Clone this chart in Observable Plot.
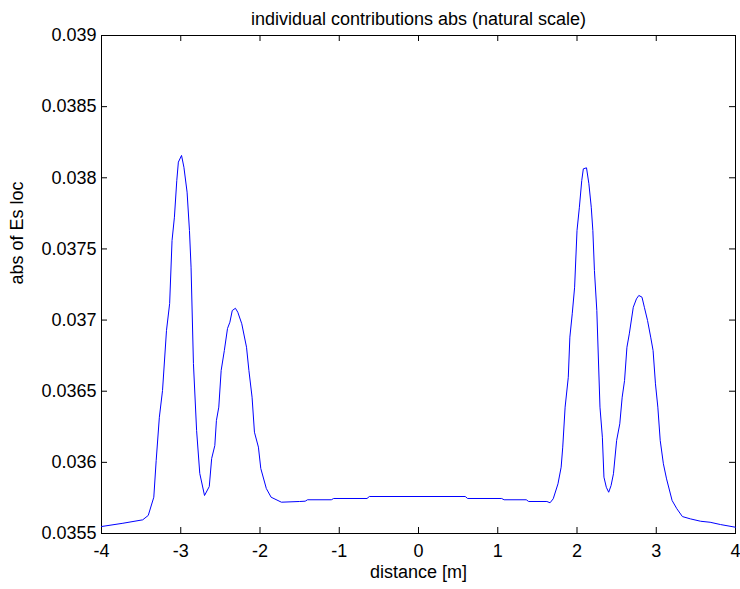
<!DOCTYPE html>
<html>
<head>
<meta charset="utf-8">
<script src="https://cdn.jsdelivr.net/npm/d3@7"></script>
<script src="https://cdn.jsdelivr.net/npm/@observablehq/plot@0.6"></script>
<style>
  html, body { margin: 0; padding: 0; background: #fff; }
</style>
</head>
<body>
<div id="chart"></div>
<script>
const chartTitle = "individual contributions abs (natural scale)";
const xLabel = "distance [m]";
const yLabel = "abs of Es loc";

const xTicks = [-4, -3, -2, -1, 0, 1, 2, 3, 4];
const yTicks = [0.0355, 0.036, 0.0365, 0.037, 0.0375, 0.038, 0.0385, 0.039];
const yTickLabels = ["0.0355", "0.036", "0.0365", "0.037", "0.0375", "0.038", "0.0385", "0.039"];

const distance = [
  -4.00, -3.73, -3.48, -3.41, -3.34, -3.31, -3.27, -3.23, -3.18, -3.14,
  -3.11, -3.08, -3.05, -3.03, -2.99, -2.96, -2.92, -2.89, -2.87, -2.84,
  -2.80, -2.76, -2.70, -2.64, -2.61, -2.57, -2.55, -2.52, -2.49, -2.45,
  -2.41, -2.38, -2.35, -2.31, -2.28, -2.23, -2.17, -2.14, -2.10, -2.07,
  -2.02, -1.99, -1.92, -1.86, -1.73, -1.50, -1.43, -1.40, -1.10, -1.07,
  -0.65, -0.62, 0.59, 0.62, 1.05, 1.08, 1.36, 1.39, 1.62, 1.66,
  1.70, 1.76, 1.80, 1.82, 1.85, 1.89, 1.91, 1.94, 1.97, 2.00,
  2.03, 2.06, 2.08, 2.12, 2.15, 2.18, 2.20, 2.22, 2.25, 2.29,
  2.32, 2.34, 2.37, 2.40, 2.43, 2.46, 2.50, 2.54, 2.57, 2.60,
  2.63, 2.66, 2.71, 2.75, 2.78, 2.82, 2.85, 2.89, 2.93, 2.96,
  2.99, 3.02, 3.05, 3.09, 3.13, 3.20, 3.26, 3.33, 3.43, 3.56,
  3.68, 3.81, 4.00
];

const absEs = [
  0.035549, 0.035572, 0.035596, 0.035627, 0.035755, 0.036013, 0.036317, 0.036505, 0.036927, 0.037116,
  0.037559, 0.037723, 0.037981, 0.038110, 0.038157, 0.038074, 0.037899, 0.037629, 0.037372, 0.036695,
  0.036224, 0.035922, 0.035767, 0.035830, 0.036027, 0.036118, 0.036294, 0.036388, 0.036646, 0.036786,
  0.036941, 0.036985, 0.037067, 0.037083, 0.037055, 0.036974, 0.036809, 0.036646, 0.036458, 0.036212,
  0.036107, 0.035957, 0.035816, 0.035755, 0.035720, 0.035725, 0.035727, 0.035737, 0.035737, 0.035746,
  0.035746, 0.035760, 0.035760, 0.035746, 0.035746, 0.035737, 0.035737, 0.035725, 0.035725, 0.035716,
  0.035744, 0.035849, 0.035966, 0.036107, 0.036388, 0.036598, 0.036880, 0.037044, 0.037231, 0.037629,
  0.037793, 0.037981, 0.038063, 0.038070, 0.037958, 0.037793, 0.037629, 0.037348, 0.037067, 0.036388,
  0.036177, 0.035896, 0.035825, 0.035790, 0.035837, 0.035920, 0.036154, 0.036271, 0.036458, 0.036575,
  0.036809, 0.036903, 0.037090, 0.037149, 0.037173, 0.037161, 0.037090, 0.036997, 0.036880, 0.036786,
  0.036552, 0.036388, 0.036154, 0.035990, 0.035884, 0.035732, 0.035674, 0.035619, 0.035603, 0.035586,
  0.035579, 0.035563, 0.035544
];

const data = distance.map((d, i) => ({d, v: absEs[i]}));
const yFmt = (v) => yTickLabels[yTicks.findIndex(t => Math.abs(t - v) < 1e-9)] ?? "";
const font = "Liberation Sans, Arial, Helvetica, sans-serif";
const fs = 18;

const W = 740, H = 589;
const mL = 101, mR = 5, mT = 35, mB = 56;
const plotW = W - mL - mR, plotH = H - mT - mB;
const tickLen = 6;

const chart = Plot.plot({
  width: W,
  height: H,
  marginLeft: mL,
  marginRight: mR,
  marginTop: mT,
  marginBottom: mB,
  style: {fontFamily: font, fontSize: fs + "px", background: "#fff", color: "#000"},
  x: {domain: [-4, 4], axis: null},
  y: {domain: [0.0355, 0.039], axis: null},
  marks: [
    Plot.frame({stroke: "#000", strokeWidth: 1}),
    // inward ticks on all four sides (MATLAB box style)
    Plot.ruleX(xTicks, {x: d => d, insetTop: plotH - tickLen, stroke: "#000", strokeWidth: 1}),
    Plot.ruleX(xTicks, {x: d => d, insetBottom: plotH - tickLen, stroke: "#000", strokeWidth: 1}),
    Plot.ruleY(yTicks, {y: d => d, insetRight: plotW - tickLen, stroke: "#000", strokeWidth: 1}),
    Plot.ruleY(yTicks, {y: d => d, insetLeft: plotW - tickLen, stroke: "#000", strokeWidth: 1}),
    // tick labels
    Plot.axisX(xTicks, {anchor: "bottom", tickSize: 0, tickPadding: 11, tickFormat: (d) => String(d), label: null, fontSize: fs, fill: "#000"}),
    Plot.axisY(yTicks, {anchor: "left", tickSize: 0, tickPadding: 5, tickFormat: yFmt, label: null, fontSize: fs, fill: "#000"}),
    Plot.line(data, {x: "d", y: "v", stroke: "#0000ff", strokeWidth: 1}),
    Plot.text([chartTitle], {frameAnchor: "top", dy: -23, fontSize: fs, fill: "#000"}),
    Plot.text([xLabel], {frameAnchor: "bottom", dy: 44, fontSize: fs, fill: "#000"}),
    Plot.text([yLabel], {frameAnchor: "left", dx: -84, rotate: -90, fontSize: fs, fill: "#000"})
  ]
});
document.getElementById("chart").appendChild(chart);
</script>
</body>
</html>
